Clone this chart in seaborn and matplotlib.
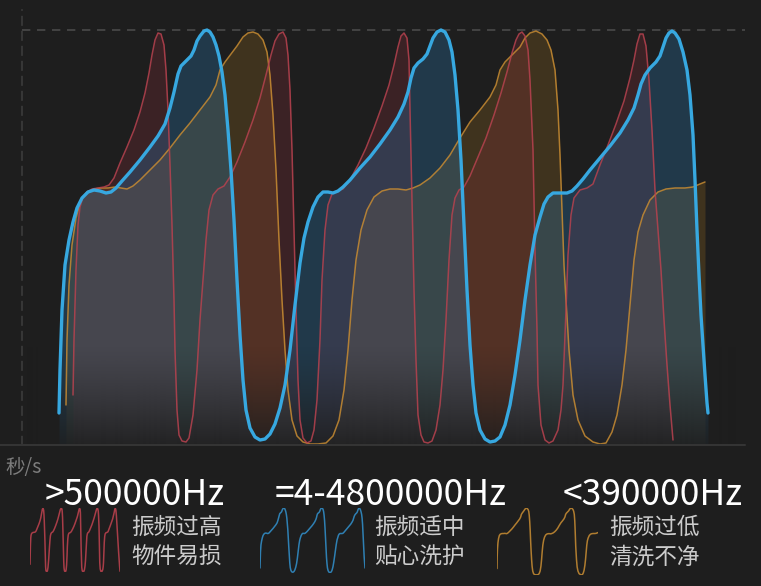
import numpy as np
import pandas as pd
import matplotlib
matplotlib.use("Agg")
import matplotlib.pyplot as plt
from matplotlib.lines import Line2D
import seaborn as sns

BG = "#1e1e1e"
sns.set_theme(style="dark", rc={"axes.facecolor": BG, "figure.facecolor": BG})
plt.rcParams["font.family"] = ["Noto Sans CJK SC", "DejaVu Sans"]

# Waveforms: time (ms) and amplitude (0 = baseline, 415 = top line)
high_t = [73, 74, 76, 78, 80, 83, 87, 92, 98, 104, 109, 114, 120, 127, 134, 140, 145, 149, 152, 155,
          158, 161, 164, 166, 168, 170, 172, 174, 175, 177, 179, 182, 186, 189, 193, 197, 200, 203, 206, 209,
          213, 218, 224, 230, 237, 245, 253, 260, 266, 271, 275, 279, 283, 286, 288, 290, 292, 294, 296, 298,
          300, 303, 307, 311, 314, 317, 320, 322, 325, 328, 332, 337, 343, 350, 358, 366, 374, 382, 389, 394,
          398, 401, 404, 407, 409, 410, 412, 414, 416, 418, 421, 424, 428, 432, 436, 440, 443, 446, 449, 452,
          455, 459, 464, 470, 478, 486, 494, 501, 507, 512, 516, 519, 522, 525, 528, 530, 533, 535, 537, 538,
          541, 545, 549, 553, 558, 561, 563, 566, 568, 571, 574, 580, 587, 593, 600, 608, 616, 624, 630, 634,
          637, 640, 643, 646, 649, 652, 655, 658, 661, 664, 667, 670, 673]
high_amp = [50, 105, 175, 220, 238, 248, 253, 256, 257, 258, 260, 267, 282, 298, 315, 333, 352, 372, 390, 405,
            412, 411, 400, 375, 335, 280, 220, 145, 95, 35, 10, 4, 3, 7, 30, 75, 125, 165, 205, 235,
            250, 256, 259, 268, 283, 303, 325, 347, 370, 390, 404, 411, 413, 407, 390, 355, 295, 215, 135, 65,
            25, 7, 2, 4, 15, 45, 105, 165, 215, 240, 251, 254, 256, 265, 280, 297, 317, 339, 360, 380,
            398, 409, 412, 407, 385, 335, 245, 155, 85, 30, 10, 3, 2, 4, 15, 40, 75, 125, 185, 230,
            247, 255, 258, 269, 288, 307, 330, 352, 373, 392, 405, 411, 413, 409, 395, 365, 295, 195, 115, 60,
            20, 5, 2, 4, 15, 35, 60, 135, 190, 230, 247, 255, 257, 261, 280, 300, 321, 344, 367, 385,
            401, 411, 411, 399, 365, 315, 255, 215, 175, 125, 80, 40, 5]

mid_t = [59, 60, 62, 65, 69, 73, 77, 82, 88, 94, 100, 106, 111, 116, 122, 130, 140, 150, 158, 165,
         170, 174, 178, 181, 186, 191, 194, 197, 200, 204, 207, 210, 213, 216, 219, 222, 225, 228, 231, 234,
         237, 240, 243, 246, 250, 255, 260, 265, 270, 275, 280, 285, 290, 295, 300, 304, 308, 313, 318, 323,
         328, 333, 338, 343, 350, 360, 370, 380, 390, 398, 404, 408, 411, 414, 418, 423, 427, 430, 433, 437,
         441, 445, 449, 452, 455, 458, 461, 464, 467, 470, 473, 476, 480, 485, 490, 495, 500, 505, 510, 515,
         520, 525, 530, 535, 540, 544, 548, 553, 560, 567, 572, 577, 583, 590, 600, 610, 620, 628, 634, 638,
         641, 645, 650, 656, 660, 663, 666, 669, 672, 675, 679, 683, 687, 690, 693, 695, 697, 699, 701, 703,
         705, 707, 708]
mid_amp = [32, 75, 135, 180, 205, 223, 237, 247, 253, 255, 254, 252, 253, 257, 264, 273, 285, 298, 309, 321,
           337, 353, 371, 379, 384, 389, 395, 404, 409, 414, 415, 413, 408, 400, 389, 373, 350, 315, 275, 225,
           165, 110, 65, 35, 17, 8, 5, 6, 11, 21, 37, 60, 95, 140, 182, 207, 223, 238, 248, 253,
           253, 252, 254, 258, 265, 277, 288, 301, 315, 328, 341, 353, 367, 377, 382, 386, 391, 399, 407, 413,
           415, 413, 405, 393, 370, 335, 285, 220, 155, 100, 60, 32, 15, 6, 3, 4, 8, 20, 40, 70,
           105, 145, 180, 210, 228, 241, 248, 252, 252, 252, 254, 259, 266, 275, 287, 299, 312, 325, 337, 350,
           361, 370, 377, 383, 389, 398, 407, 412, 414, 412, 406, 393, 375, 350, 310, 265, 215, 170, 130, 100,
           70, 42, 32]

low_t = [66, 67, 69, 72, 76, 81, 87, 94, 101, 108, 115, 121, 127, 133, 140, 150, 160, 170, 180, 190,
         200, 210, 216, 220, 225, 231, 237, 243, 248, 253, 258, 263, 267, 270, 273, 276, 279, 282, 285, 288,
         292, 297, 303, 310, 318, 326, 333, 339, 344, 348, 352, 356, 361, 367, 374, 382, 390, 398, 406, 413,
         420, 430, 440, 450, 460, 470, 480, 490, 496, 500, 505, 510, 515, 520, 525, 530, 536, 542, 547, 551,
         555, 558, 560, 562, 564, 566, 569, 573, 578, 585, 593, 600, 606, 612, 617, 622, 626, 630, 634, 638,
         643, 650, 658, 666, 675, 685, 693, 700, 705]
low_amp = [40, 105, 160, 200, 227, 245, 253, 256, 257, 257, 258, 257, 256, 259, 265, 275, 285, 297, 310, 322,
           335, 348, 360, 375, 383, 391, 399, 408, 412, 413, 411, 405, 393, 370, 330, 275, 205, 145, 95, 55,
           25, 9, 3, 1, 1, 2, 9, 25, 55, 95, 145, 185, 215, 235, 248, 254, 256, 256, 255, 257,
           260, 267, 277, 290, 307, 323, 335, 348, 360, 375, 383, 388, 393, 398, 407, 412, 414, 411, 405, 395,
           375, 335, 290, 235, 180, 145, 95, 50, 25, 9, 3, 1, 2, 13, 30, 60, 95, 140, 185, 213,
           230, 245, 253, 256, 257, 257, 258, 261, 263]

freq_labels = [">500000Hz", "=4-4800000Hz", "<390000Hz"]
desc_top = ["振频过高", "振频适中", "振频过低"]
desc_bottom = ["物件易损", "贴心洗护", "清洗不净"]

waves = [
    # name, t, amp, line colour, fill colour, fill alpha, line width
    ("low", low_t, low_amp, "#c88c32", "#b07a20", 0.23, 1.1),
    ("high", high_t, high_amp, "#b8424f", "#8a2d3a", 0.27, 1.1),
    ("mid", mid_t, mid_amp, "#37a8e0", "#2a78b0", 0.30, 2.4),
]

W, H = 761, 586
fig = plt.figure(figsize=(W / 100, H / 100), dpi=100)
ax = fig.add_axes([22 / W, 141 / H, 723 / W, 435 / H])
ax.set_xlim(22, 745)
ax.set_ylim(0, 435)

for name, t, a, lc, fc, fa, lw in waves:
    ax.fill_between(t, a, 0, color=fc, alpha=fa, lw=0, zorder=1)

# dark fade toward the baseline
ramp = np.clip(1 - np.linspace(0, 100, 200) / 100, 0, 1) ** 1.3 * 0.88
grad = np.zeros((200, 1, 4))
grad[..., :3] = matplotlib.colors.to_rgb(BG)
grad[:, 0, 3] = ramp
ax.imshow(grad, extent=(22, 745, 0, 100), origin="lower", aspect="auto", zorder=2)

for name, t, a, lc, fc, fa, lw in waves:
    df = pd.DataFrame({"t": t, "amp": a})
    sns.lineplot(data=df, x="t", y="amp", ax=ax, color=lc, lw=lw, estimator=None,
                 sort=False, alpha=0.85 if name != "mid" else 1, zorder=4 if name == "mid" else 3)

ax.axhline(415, color="#4a4a4a", lw=1.2, ls=(0, (5, 4)), zorder=0)
for s in ["top", "right", "bottom"]:
    ax.spines[s].set_visible(False)
ax.spines["left"].set_color("#3c3c3c")
ax.spines["left"].set_linestyle((0, (5, 4)))
ax.spines["left"].set_linewidth(1.2)
ax.set_xticks([])
ax.set_yticks([])
ax.set_xlabel("")
ax.set_ylabel("")
ax.grid(False)

fig.add_artist(Line2D([0, 745 / W], [141 / H, 141 / H], color="#343434", lw=1.5))
fig.text(5 / W, 1 - 468 / H, "秒/s", color="#7d7d7d", fontsize=14, va="center", ha="left")

# legend icons reuse the waveforms
icons = [
    (high_t, high_amp, "#a83d48", [30, 508, 90, 64]),
    (mid_t, mid_amp, "#2f80b3", [260, 508, 105, 65]),
    (low_t, low_amp, "#b07d30", [497, 508, 101, 67]),
]
for t, a, c, (x0, y0, w, h) in icons:
    iax = fig.add_axes([x0 / W, 1 - (y0 + h) / H, w / W, h / H])
    iax.set_facecolor("none")
    sns.lineplot(x=t, y=a, ax=iax, color=c, lw=1.1, estimator=None, sort=False)
    iax.set_xlim(min(t), max(t))
    iax.set_ylim(0, 415)
    iax.axis("off")

freq_x = [45, 275, 563]
desc_x = [131, 374, 609]
for i in range(3):
    fig.text(freq_x[i] / W, 1 - 505 / H, freq_labels[i], color="white", fontsize=25.5,
             va="baseline", ha="left")
    fig.text(desc_x[i] / W, 1 - 527 / H, desc_top[i], color="#cccccc", fontsize=16.3,
             va="center", ha="left")
    fig.text(desc_x[i] / W, 1 - 557 / H, desc_bottom[i], color="#cccccc", fontsize=16.3,
             va="center", ha="left")

fig.savefig("out.png", dpi=100, facecolor=BG)
